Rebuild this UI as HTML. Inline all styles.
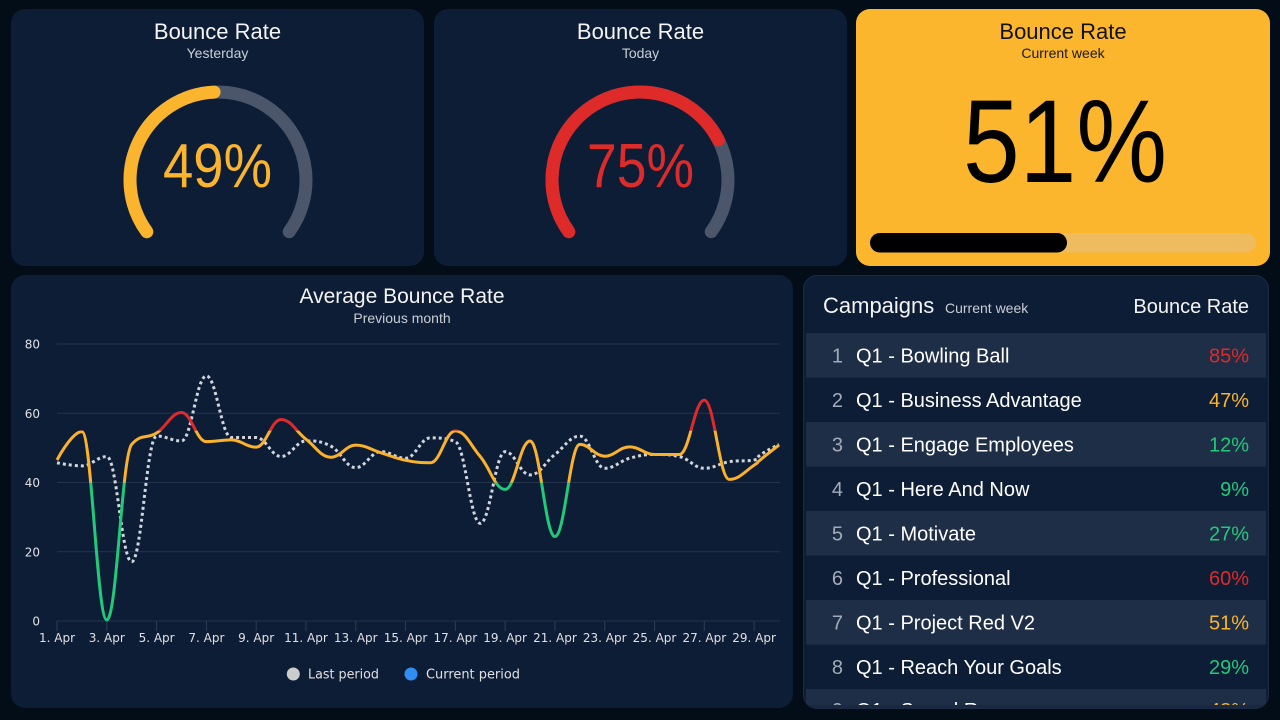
<!DOCTYPE html>
<html><head><meta charset="utf-8"><style>
html,body{margin:0;padding:0;background:#020d17;width:1280px;height:720px;overflow:hidden}
svg{display:block}
.t{font-family:"Liberation Sans",sans-serif}
.d{font-family:"DejaVu Sans","Liberation Sans",sans-serif}
</style></head><body>
<svg width="1280" height="720" viewBox="0 0 1280 720" xmlns="http://www.w3.org/2000/svg">
<defs>
<clipPath id="cRed"><rect x="0" y="0" width="1280" height="430.6"/></clipPath>
<clipPath id="cOr"><rect x="0" y="430.6" width="1280" height="51.9"/></clipPath>
<clipPath id="cGr"><rect x="0" y="482.5" width="1280" height="200"/></clipPath>
<clipPath id="cTab"><rect x="803" y="275" width="466" height="434" rx="14"/></clipPath>
<clipPath id="cRows"><rect x="803" y="275" width="466" height="430"/></clipPath>
</defs>
<rect width="1280" height="720" fill="#020d17"/>

<!-- Card 1 -->
<rect x="11" y="9" width="413" height="257" rx="14" fill="#0d1d36"/>
<text class="t" x="217.5" y="39" text-anchor="middle" font-size="22" fill="#f4f4f4">Bounce Rate</text>
<text class="t" x="217.5" y="58" text-anchor="middle" font-size="14" fill="#c9ced6">Yesterday</text>
<path d="M146.8 231.7 A88 88 0 1 1 289.2 231.7" fill="none" stroke="#4b566a" stroke-width="13" stroke-linecap="round"/>
<path d="M146.8 231.7 A88 88 0 0 1 214.1 92.1" fill="none" stroke="#fbb42d" stroke-width="13" stroke-linecap="round"/>
<text class="t" x="217.5" y="187" text-anchor="middle" font-size="62" textLength="109" lengthAdjust="spacingAndGlyphs" fill="#fbb42d">49%</text>

<!-- Card 2 -->
<rect x="434" y="9" width="413" height="257" rx="14" fill="#0d1d36"/>
<text class="t" x="640.5" y="39" text-anchor="middle" font-size="22" fill="#f4f4f4">Bounce Rate</text>
<text class="t" x="640.5" y="58" text-anchor="middle" font-size="14" fill="#c9ced6">Today</text>
<path d="M568.8 231.7 A88 88 0 1 1 711.2 231.7" fill="none" stroke="#4b566a" stroke-width="13" stroke-linecap="round"/>
<path d="M568.8 231.7 A88 88 0 1 1 718.4 140.0" fill="none" stroke="#df2a2a" stroke-width="13" stroke-linecap="round"/>
<text class="t" x="640.5" y="187" text-anchor="middle" font-size="62" textLength="107" lengthAdjust="spacingAndGlyphs" fill="#df2a2a">75%</text>

<!-- Card 3 -->
<rect x="856" y="9" width="414" height="257" rx="14" fill="#fbb62e"/>
<text class="t" x="1063" y="39" text-anchor="middle" font-size="22" fill="#111111">Bounce Rate</text>
<text class="t" x="1063" y="58" text-anchor="middle" font-size="14" fill="#1a1a1a">Current week</text>
<text class="t" x="1065" y="182" text-anchor="middle" font-size="118" textLength="204" lengthAdjust="spacingAndGlyphs" fill="#000000">51%</text>
<rect x="870" y="233" width="386" height="19.5" rx="9.75" fill="#eebb5f"/>
<rect x="870" y="233" width="197" height="19.5" rx="9.75" fill="#000000"/>

<!-- Chart panel -->
<rect x="11" y="275" width="782" height="433" rx="14" fill="#0d1d36"/>
<text class="t" x="402" y="303" text-anchor="middle" font-size="21" fill="#f4f4f4">Average Bounce Rate</text>
<text class="t" x="402" y="323" text-anchor="middle" font-size="14" fill="#c9ced6">Previous month</text>
<g stroke="#24344f" stroke-width="1">
<line x1="57" y1="344" x2="780" y2="344"/>
<line x1="57" y1="413.3" x2="780" y2="413.3"/>
<line x1="57" y1="482.5" x2="780" y2="482.5"/>
<line x1="57" y1="551.8" x2="780" y2="551.8"/>
<line x1="57" y1="621" x2="780" y2="621"/>
</g>
<g id="ticks" stroke="#2c3d58" stroke-width="1"></g>
<g class="d" font-size="12" fill="#e0e0e3" text-anchor="end">
<text x="40" y="348.5">80</text>
<text x="40" y="417.8">60</text>
<text x="40" y="487">40</text>
<text x="40" y="556.3">20</text>
<text x="40" y="625.5">0</text>
</g>
<g id="xl" class="d" font-size="12" fill="#e0e0e3" text-anchor="middle"></g>
<path id="pLast" d="" fill="none" stroke="#d2d5db" stroke-width="3" stroke-dasharray="3 3"/>
<path id="pRed" d="" fill="none" stroke="#df2a2a" stroke-width="3" clip-path="url(#cRed)" stroke-linejoin="round"/>
<path id="pOr" d="" fill="none" stroke="#fbb22a" stroke-width="3" clip-path="url(#cOr)" stroke-linejoin="round"/>
<path id="pGr" d="" fill="none" stroke="#22c97a" stroke-width="3" clip-path="url(#cGr)" stroke-linejoin="round"/>
<circle cx="293.3" cy="674" r="6.5" fill="#cccccc"/>
<text class="d" x="308" y="678.5" font-size="13" textLength="71" lengthAdjust="spacingAndGlyphs" fill="#e0e0e3">Last period</text>
<circle cx="411" cy="674" r="6.5" fill="#2f90f2"/>
<text class="d" x="426" y="678.5" font-size="13" textLength="94" lengthAdjust="spacingAndGlyphs" fill="#e0e0e3">Current period</text>

<!-- Table panel -->
<g clip-path="url(#cTab)">
<rect x="803" y="275" width="466" height="434" fill="#1a2942"/>
<rect x="803" y="275" width="466" height="430" fill="#0d1d36"/>
<g clip-path="url(#cRows)">
<text class="t" x="823" y="313" font-size="22" fill="#f4f4f4">Campaigns</text>
<text class="t" x="945" y="313" font-size="14" fill="#c9ced6">Current week</text>
<text class="t" x="1249" y="313" text-anchor="end" font-size="20" fill="#f4f4f4">Bounce Rate</text>

<rect x="806" y="333" width="460" height="44.5" fill="#1f2e47"/>
<rect x="806" y="422" width="460" height="44.5" fill="#1f2e47"/>
<rect x="806" y="511" width="460" height="44.5" fill="#1f2e47"/>
<rect x="806" y="600" width="460" height="44.5" fill="#1f2e47"/>
<rect x="806" y="689" width="460" height="44.5" fill="#1f2e47"/>

<g class="t" font-size="20">
<g fill="#a4abb8" text-anchor="end">
<text x="843" y="362.5">1</text>
<text x="843" y="407">2</text>
<text x="843" y="451.5">3</text>
<text x="843" y="496">4</text>
<text x="843" y="540.5">5</text>
<text x="843" y="585">6</text>
<text x="843" y="629.5">7</text>
<text x="843" y="674">8</text>
<text x="843" y="717">9</text>
</g>
<g fill="#ffffff">
<text x="856" y="362.5">Q1 - Bowling Ball</text>
<text x="856" y="407">Q1 - Business Advantage</text>
<text x="856" y="451.5">Q1 - Engage Employees</text>
<text x="856" y="496">Q1 - Here And Now</text>
<text x="856" y="540.5">Q1 - Motivate</text>
<text x="856" y="585">Q1 - Professional</text>
<text x="856" y="629.5">Q1 - Project Red V2</text>
<text x="856" y="674">Q1 - Reach Your Goals</text>
<text x="856" y="717">Q1 - Speed Run</text>
</g>
<g text-anchor="end">
<text x="1249" y="362.5" fill="#df2a2a">85%</text>
<text x="1249" y="407" fill="#fbb42d">47%</text>
<text x="1249" y="451.5" fill="#22c97a">12%</text>
<text x="1249" y="496" fill="#22c97a">9%</text>
<text x="1249" y="540.5" fill="#22c97a">27%</text>
<text x="1249" y="585" fill="#df2a2a">60%</text>
<text x="1249" y="629.5" fill="#fbb42d">51%</text>
<text x="1249" y="674" fill="#22c97a">29%</text>
<text x="1249" y="717" fill="#fbb42d">48%</text>
</g>
</g>
</g>
</g>
<rect x="803.5" y="275.5" width="465" height="433" rx="14" fill="none" stroke="#1b2a43" stroke-width="1"/>
</svg>
<script>
(function(){
  var cur=[46.5,54.7,0.3,51,54.3,60.2,51.8,52.3,50.2,58.2,52.5,47.3,50.8,48.6,46.4,45.7,54.9,47.5,38,52,24.4,51,47.6,50.3,48.1,48.1,63.8,40.9,45,50.8];
  var last=[45.7,44.8,47.5,17.1,53.4,52,70.8,53,53,47.5,52,50.5,44.3,48.9,47,52.9,51.8,28.2,48.9,42.2,48.1,53.4,44.1,47,48.1,47.5,44.1,46,46.5,51];
  function X(i){return 57+i*722/29;}
  function Y(v){return 621-v*277/80;}
  function spline(vals){
    var p=vals.map(function(v,i){return {x:X(i),y:Y(v)};});
    var sm=1.5,den=2.5,d='M'+p[0].x.toFixed(2)+' '+p[0].y.toFixed(2);
    for(var i=1;i<p.length;i++){
      var pt=p[i],lp=p[i-1],np=p[i+1],lcx,lcy,rcx,rcy;
      if(np){
        lcx=(sm*pt.x+lp.x)/den; lcy=(sm*pt.y+lp.y)/den;
        rcx=(sm*pt.x+np.x)/den; rcy=(sm*pt.y+np.y)/den;
        var corr=0;
        if(rcx!==lcx){corr=((rcy-lcy)*(rcx-pt.x))/(rcx-lcx)+pt.y-rcy;}
        lcy+=corr; rcy+=corr;
        if(lcy>lp.y&&lcy>pt.y){lcy=Math.max(lp.y,pt.y);rcy=2*pt.y-lcy;}
        else if(lcy<lp.y&&lcy<pt.y){lcy=Math.min(lp.y,pt.y);rcy=2*pt.y-lcy;}
        if(rcy>np.y&&rcy>pt.y){rcy=Math.max(np.y,pt.y);lcy=2*pt.y-rcy;}
        else if(rcy<np.y&&rcy<pt.y){rcy=Math.min(np.y,pt.y);lcy=2*pt.y-rcy;}
      }
      var c1x=(lp.rcx!==undefined)?lp.rcx:lp.x, c1y=(lp.rcy!==undefined)?lp.rcy:lp.y;
      var c2x=(lcx!==undefined)?lcx:pt.x, c2y=(lcy!==undefined)?lcy:pt.y;
      d+=' C'+c1x.toFixed(2)+' '+c1y.toFixed(2)+' '+c2x.toFixed(2)+' '+c2y.toFixed(2)+' '+pt.x.toFixed(2)+' '+pt.y.toFixed(2);
      if(np){pt.rcx=rcx;pt.rcy=rcy;}
    }
    return d;
  }
  var dc=spline(cur), dl=spline(last);
  document.getElementById('pLast').setAttribute('d',dl);
  ['pRed','pOr','pGr'].forEach(function(id){document.getElementById(id).setAttribute('d',dc);});
  var ns='http://www.w3.org/2000/svg',tk=document.getElementById('ticks'),xl=document.getElementById('xl');
  for(var i=0;i<30;i+=2){
    var l=document.createElementNS(ns,'line');
    l.setAttribute('x1',X(i));l.setAttribute('x2',X(i));l.setAttribute('y1',621);l.setAttribute('y2',631);
    tk.appendChild(l);
    var t=document.createElementNS(ns,'text');
    t.setAttribute('x',X(i));t.setAttribute('y',642);
    t.textContent=(i+1)+'. Apr';
    xl.appendChild(t);
  }
})();
</script>
</body></html>
